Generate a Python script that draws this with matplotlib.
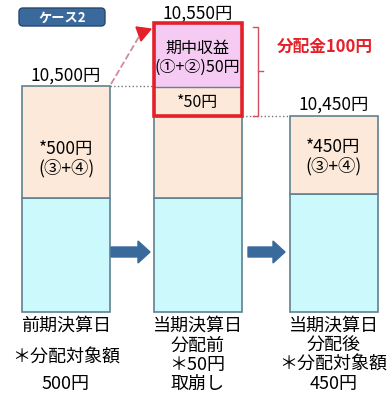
import matplotlib.pyplot as plt
from matplotlib.patches import FancyBboxPatch, Rectangle, FancyArrow, Polygon

plt.rcParams['font.family'] = ['Noto Sans CJK JP', 'DejaVu Sans']

# values shown in the chart
stages = ['前期決算日', '当期決算日\n分配前', '当期決算日\n分配後']
nav_labels = ['10,500円', '10,550円', '10,450円']
notes = ['＊分配対象額\n500円', '＊50円\n取崩し', '＊分配対象額\n450円']
reserve_labels = ['*500円\n(③+④)', '', '*450円\n(③+④)']
income_label = '期中収益\n(①+②)50円'
draw_label = '*50円'
dist_label = '分配金100円'
case_label = 'ケース2'

# schematic heights (pixels of the diagram)
base_h = [114, 114, 118]
reserve_h = [112, 111, 78]
income_h = 64

PEACH = '#fde9d9'
CYAN = '#ccfafc'
PINK = '#f5cbf3'
EDGE = '#5f8290'
RED = '#e3212b'
NAVY = '#3a6a9c'

fig = plt.figure(figsize=(3.9, 4.1), dpi=100)
ax = fig.add_axes([0, 0, 1, 1])
ax.set_xlim(0, 390)
ax.set_ylim(410, 0)
ax.axis('off')

xc = [66, 197.5, 333.5]
w = 88
bottom = 313

tops = []
for i in range(3):
    ax.bar(xc[i], base_h[i], bottom=bottom - base_h[i], width=w, color=CYAN,
           edgecolor=EDGE, linewidth=1.2)
    b2 = bottom - base_h[i] - reserve_h[i]
    ax.bar(xc[i], reserve_h[i], bottom=b2, width=w, color=PEACH,
           edgecolor=EDGE, linewidth=1.2)
    tops.append(b2)

# income block on the middle bar
inc_top = tops[1] - income_h
ax.bar(xc[1], income_h, bottom=inc_top, width=w, color=PINK,
       edgecolor=EDGE, linewidth=1.0)
# 50 yen part drawn down from reserve
ax.plot([xc[1] - w / 2, xc[1] + w / 2], [tops[1] + 29, tops[1] + 29],
        color=EDGE, lw=1.0)
ax.add_patch(Rectangle((xc[1] - w / 2, inc_top), w, tops[1] + 29 - inc_top,
                       fill=False, edgecolor=RED, lw=2.6, zorder=5))

# value labels
ax.text(xc[0], tops[0] - 11, nav_labels[0], ha='center', va='center', fontsize=12.5)
ax.text(xc[1], inc_top - 10, nav_labels[1], ha='center', va='center', fontsize=12.5)
ax.text(xc[2], tops[2] - 12, nav_labels[2], ha='center', va='center', fontsize=12.5)

ax.text(xc[1], inc_top + 34, income_label, ha='center', va='center',
        fontsize=11.5, linespacing=1.15)
ax.text(xc[1], tops[1] + 15, draw_label, ha='center', va='center', fontsize=11.5)

ax.text(xc[0], tops[0] + 72, reserve_labels[0], ha='center', va='center',
        fontsize=12.5, linespacing=1.1)
ax.text(xc[2], tops[2] + 40, reserve_labels[2], ha='center', va='center',
        fontsize=12.5, linespacing=1.1)

# dotted guide lines
ax.plot([xc[0] + w / 2, xc[1] - w / 2], [tops[0], tops[0]], ls=':', color='#777777', lw=1)
ax.plot([xc[1] + w / 2, xc[2] - w / 2], [tops[2], tops[2]], ls=':', color='#777777', lw=1)

# dashed diagonal with red head
ax.plot([111, 140], [85, 36], ls='--', color='#d08a9a', lw=1.3)
ax.add_patch(Polygon([[136, 28], [151, 30], [141, 42]], closed=True, color=RED))

# bracket for distribution
bx = 258
ax.plot([bx - 5, bx, bx, bx - 5], [28, 28, tops[1] + 29, tops[1] + 29],
        color='#d05060', lw=1)
ax.plot([bx, bx + 5], [72, 72], color='#d05060', lw=1)
ax.text(325, 47, dist_label, ha='center', va='center', fontsize=12,
        color=RED, fontweight='bold')

# case badge
ax.add_patch(FancyBboxPatch((19, 9), 86, 18, boxstyle='round,pad=0,rounding_size=4',
                            facecolor=NAVY, edgecolor='#24486e', lw=1))
ax.text(62, 18, case_label, ha='center', va='center', fontsize=9.5,
        color='white', fontweight='bold')

# block arrows
for x0, x1 in [(111, 150), (248, 285)]:
    ax.add_patch(FancyArrow(x0, 253, x1 - x0, 0, width=10, head_width=22,
                            head_length=12, length_includes_head=True,
                            color=NAVY))

# stage labels and notes
ax.text(xc[0], 317, stages[0], ha='center', va='top', fontsize=13)
ax.text(xc[0], 349, notes[0], ha='center', va='top', fontsize=13, linespacing=1.6)
ax.text(xc[1], 317, stages[1] + '\n' + notes[1], ha='center', va='top',
        fontsize=13, linespacing=1.1)
ax.text(xc[2], 317, stages[2] + '\n' + notes[2], ha='center', va='top',
        fontsize=13, linespacing=1.1)

fig.savefig('out.png', dpi=100)
